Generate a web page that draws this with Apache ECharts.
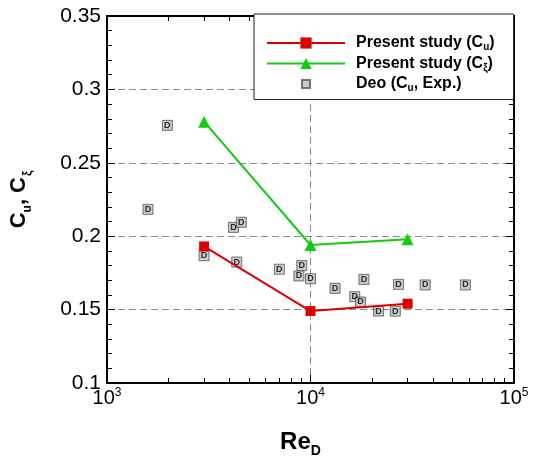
<!DOCTYPE html>
<html>
<head>
<meta charset="utf-8">
<script src="https://cdn.jsdelivr.net/npm/echarts@6/dist/echarts.min.js"></script>
<style>
  html, body { margin: 0; padding: 0; background: #fff; }
  #chart { width: 533px; height: 459px; }
</style>
</head>
<body>
<div id="chart"></div>
<script>
// present study (simulations)
const presentRe = [3000, 10000, 30000];
const presentCu = [0.193, 0.149, 0.154];
const presentCxi = [0.278, 0.194, 0.198];

// Deo experiments
const deoRe = [1980, 1590, 4180, 4570, 3000, 4340, 7030, 9060, 8770, 10000,
  13200, 18300, 16500, 17600, 21600, 26100, 27100, 36600, 57700];
const deoCu = [0.2755, 0.2183, 0.206, 0.2095, 0.1867, 0.1824, 0.1775, 0.180, 0.1729, 0.171,
  0.1645, 0.1706, 0.1588, 0.1552, 0.149, 0.149, 0.1672, 0.1668, 0.1668];

const xMinorTicks = [2000, 3000, 4000, 5000, 6000, 7000, 8000, 9000,
  20000, 30000, 40000, 50000, 60000, 70000, 80000, 90000];

const FONT = "Arial, 'Liberation Sans', sans-serif";
const chart = echarts.init(document.getElementById("chart"));

const dashed = { show: true, lineStyle: { color: "#8a8a8a", type: [7, 4], width: 1 } };
const blackLine = { show: true, lineStyle: { color: "#000", width: 2 } };

const logAxis = (extra) => Object.assign({
  type: "log", logBase: 10, min: 1000, max: 100000, gridIndex: 0,
  axisLine: blackLine,
  axisTick: { show: true, inside: true, length: 8, lineStyle: { color: "#000", width: 1 } },
  axisLabel: { show: false },
  splitLine: { show: false },
}, extra);

const minorX = (pos) => logAxis({
  position: pos,
  axisLine: { show: false },
  axisTick: { show: true, inside: true, length: 5, customValues: xMinorTicks,
    lineStyle: { color: "#000", width: 1 } },
});

const valAxis = (extra) => Object.assign({
  type: "value", min: 0.1, max: 0.35, interval: 0.05,
  axisLine: blackLine,
  axisTick: { show: true, inside: true, length: 8, lineStyle: { color: "#000", width: 1 } },
  minorTick: { show: true, splitNumber: 5, length: 5, lineStyle: { color: "#000", width: 1 } },
  axisLabel: { show: false },
  splitLine: { show: false },
}, extra);

chart.setOption({
  animation: false,
  backgroundColor: "#fff",
  grid: { left: 107, right: 19, top: 16, bottom: 76, outerBoundsMode: "none", containLabel: false },
  legend: {
    orient: "vertical",
    left: 254, top: 14,
    padding: [21, 19, 6, 12],
    itemWidth: 78, itemHeight: 14, itemGap: 3,
    backgroundColor: "#fff",
    borderColor: "#222", borderWidth: 1,
    textStyle: {
      fontFamily: FONT, fontSize: 16, fontWeight: "bold", color: "#000",
      padding: [0, 0, 0, 6],
      rich: {
        sub: { fontFamily: FONT, fontSize: 10, fontWeight: "bold", color: "#000",
          verticalAlign: "bottom", padding: [9, 0, 0, 0] },
      },
    },
    formatter: (name) => ({
      cu: "Present study (C{sub|u})",
      cxi: "Present study (C{sub|ξ})",
      deo: "Deo (C{sub|u}, Exp.)",
    })[name],
    data: [
      { name: "cu" },
      { name: "cxi" },
      { name: "deo", icon: "path://M0,0M78,14M35,3h8v8h-8z" },
    ],
  },
  xAxis: [
    logAxis({
      position: "bottom",
      name: "Re{sub|D}",
      nameLocation: "middle",
      nameGap: 43,
      nameTextStyle: {
        fontFamily: FONT, fontSize: 24, fontWeight: "bold", color: "#000",
        padding: [0, 20, 0, 0],
        rich: { sub: { fontFamily: FONT, fontSize: 14, fontWeight: "bold", color: "#000",
          verticalAlign: "bottom", padding: [18, 0, 0, 0] } },
      },
      splitLine: dashed,
      axisLabel: {
        show: true, margin: 4, color: "#000", fontFamily: FONT, fontSize: 20,
        formatter: (v) => "10{sup|" + Math.round(Math.log10(v)) + "}",
        rich: { sup: { fontFamily: FONT, fontSize: 12, color: "#000",
          verticalAlign: "top", padding: [0, 0, 10, 0] } },
      },
    }),
    logAxis({ position: "top" }),
    minorX("bottom"),
    minorX("top"),
  ],
  yAxis: [
    valAxis({
      position: "left",
      name: "C{sub|u}, C{sub2|ξ}",
      nameLocation: "middle",
      nameGap: 73,
      nameTextStyle: {
        fontFamily: FONT, fontSize: 22, fontWeight: "bold", color: "#000",
        rich: {
          sub: { fontFamily: FONT, fontSize: 12, fontWeight: "bold", color: "#000",
            verticalAlign: "bottom", padding: [12, 0, 0, 0] },
          sub2: { fontFamily: FONT, fontSize: 12, color: "#000",
            verticalAlign: "bottom", padding: [18, 0, 0, 1] },
        },
      },
      splitLine: dashed,
      axisLabel: { show: true, margin: 6, color: "#000", fontFamily: FONT, fontSize: 21 },
    }),
    valAxis({ position: "right" }),
  ],
  series: [
    {
      name: "deo",
      type: "scatter",
      xAxisIndex: 0, yAxisIndex: 0,
      data: deoRe.map((x, i) => [x, deoCu[i]]),
      symbol: "rect",
      symbolSize: 10,
      itemStyle: { color: "#bdbdbd", borderColor: "#555", borderWidth: 1 },
      label: {
        show: true, position: "inside", formatter: "D",
        fontFamily: FONT, fontSize: 9, fontWeight: "bold", color: "#000",
      },
      z: 2,
    },
    {
      name: "cu",
      type: "line",
      xAxisIndex: 0, yAxisIndex: 0,
      data: presentRe.map((x, i) => [x, presentCu[i]]),
      symbol: "rect",
      symbolSize: 10,
      lineStyle: { color: "#dd0000", width: 2 },
      itemStyle: { color: "#dd0000" },
      z: 3,
    },
    {
      name: "cxi",
      type: "line",
      xAxisIndex: 0, yAxisIndex: 0,
      data: presentRe.map((x, i) => [x, presentCxi[i]]),
      symbol: "triangle",
      symbolSize: 12,
      lineStyle: { color: "#11cc11", width: 2 },
      itemStyle: { color: "#11cc11" },
      z: 3,
    },
  ],
});
</script>
</body>
</html>
